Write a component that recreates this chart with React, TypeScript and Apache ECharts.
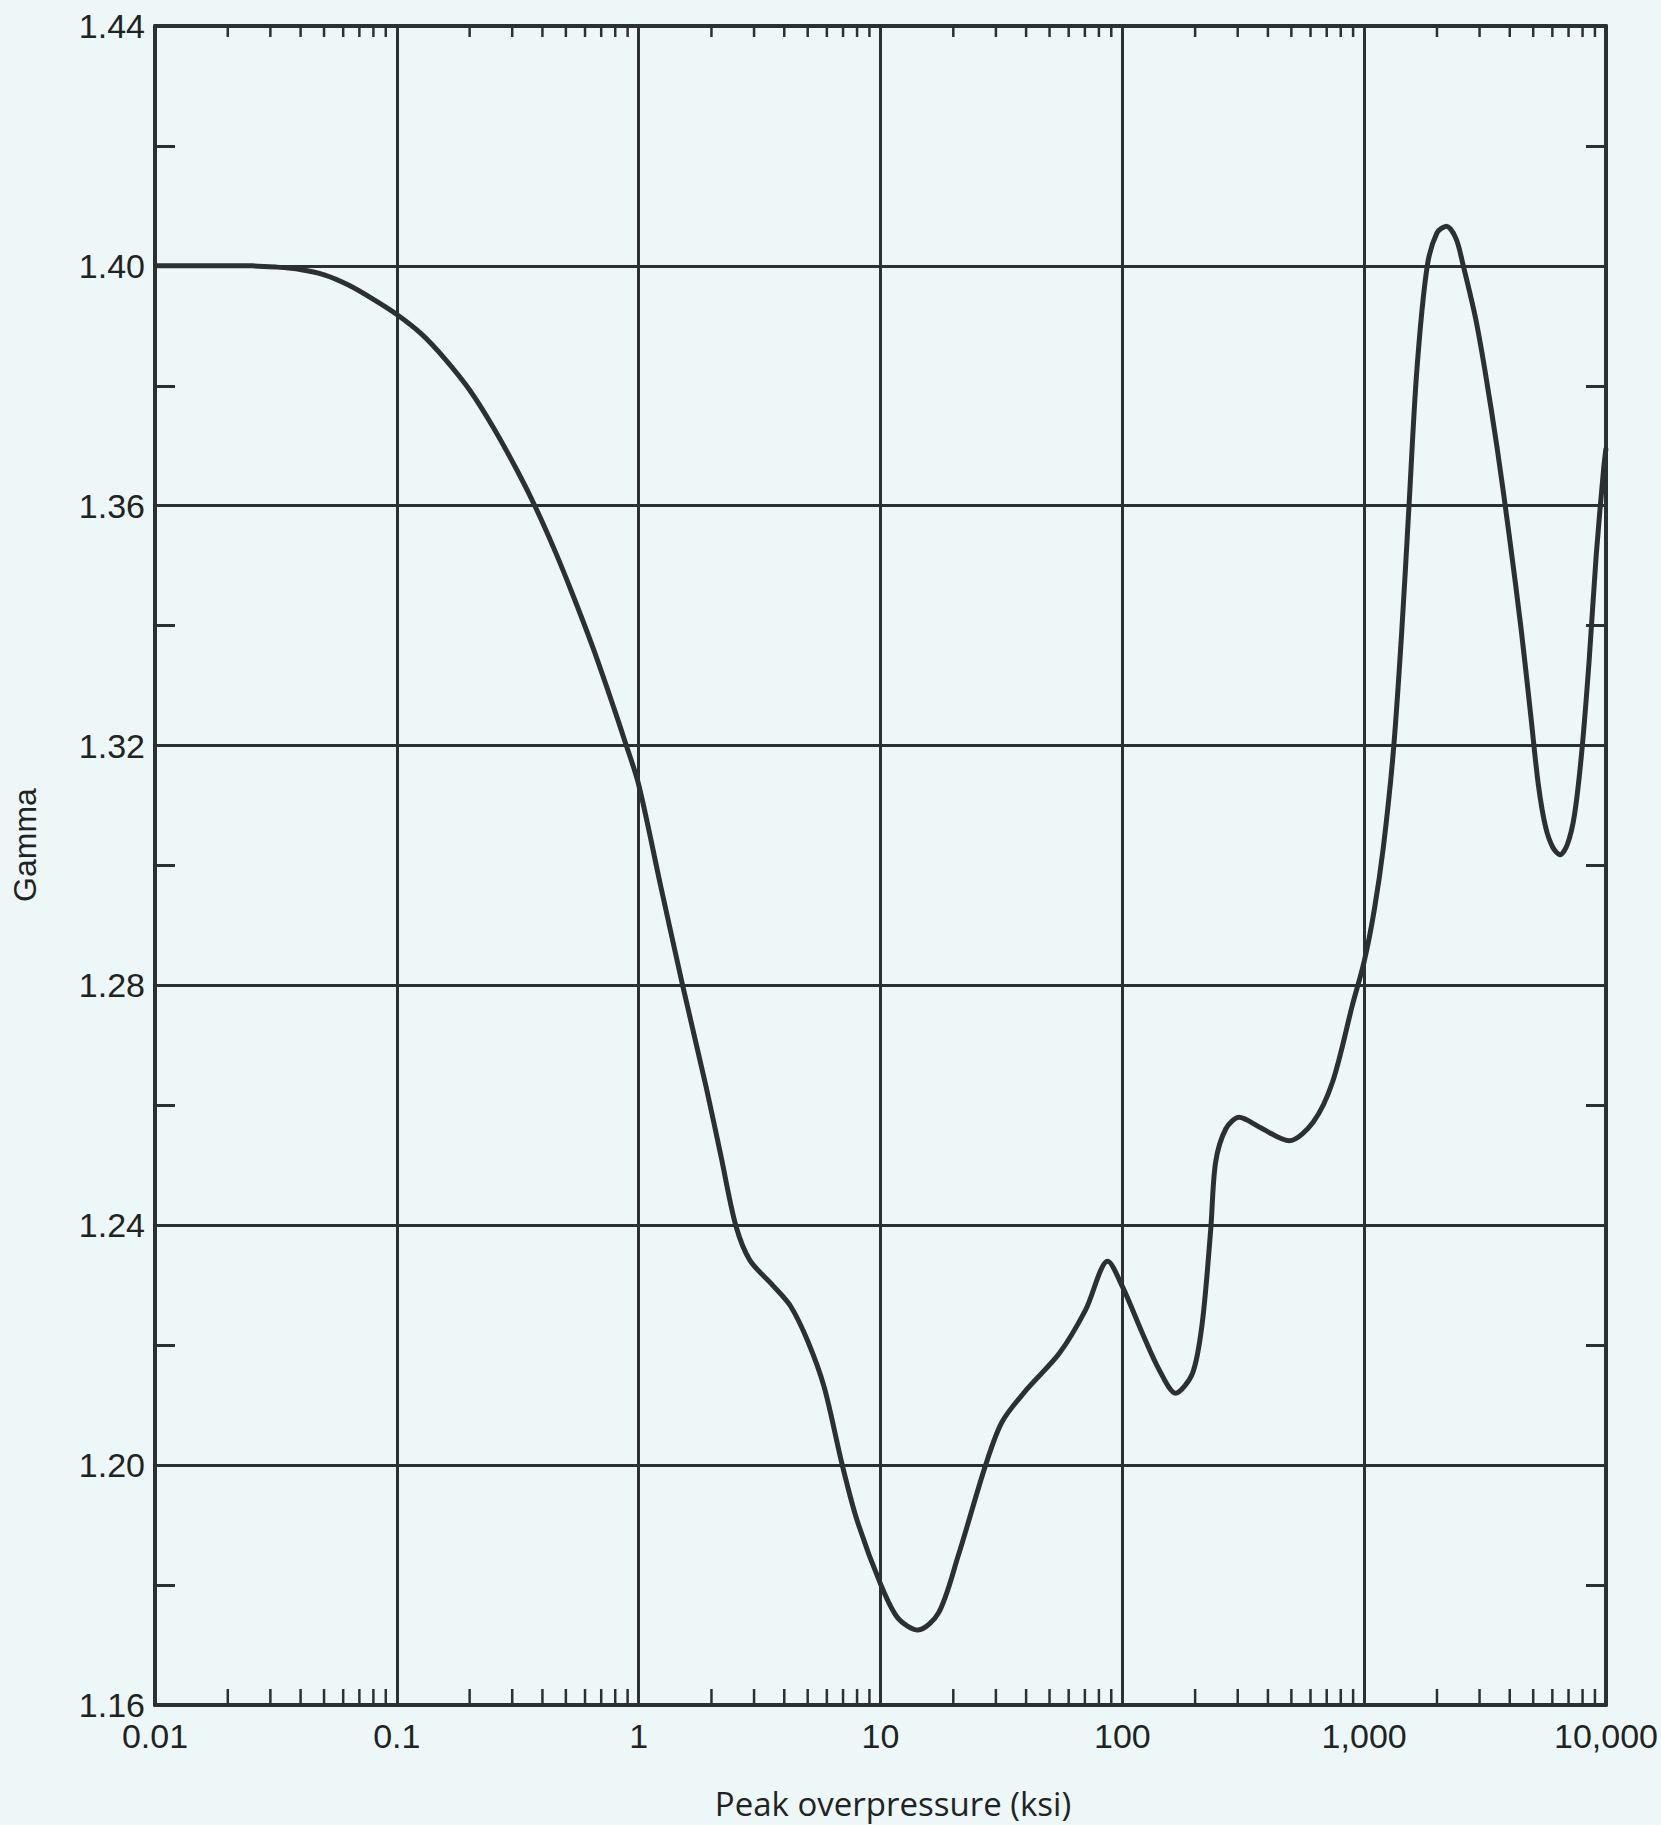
import React, { useEffect, useRef } from "react";
import * as echarts from "echarts";

// Ratio of specific heats (gamma) of air versus peak overpressure
const pressureKsi = [
  0.01, 0.0158, 0.0251, 0.0316, 0.0398, 0.0501, 0.0631, 0.0794, 0.1, 0.126, 0.158, 0.2, 0.251,
  0.316, 0.372, 0.447, 0.525, 0.646, 0.794, 0.871, 1.0, 1.23, 1.52, 1.9, 2.19, 2.52, 2.88, 3.6,
  4.25, 5.0, 5.85, 6.95, 8.0, 10.0, 11.8, 14.3, 17.4, 21, 27.2, 31.8, 40, 55, 70.5, 87, 100,
  121, 142, 166, 195, 214, 232, 243, 268, 304, 368, 490, 615, 740, 895, 1000, 1100, 1200, 1320,
  1430, 1530, 1650, 1820, 2000, 2190, 2400, 2570, 2880, 3160, 3550, 3980, 4470, 4900, 5250,
  5620, 6030, 6460, 6920, 7410, 7940, 8510, 9120, 9770, 10000,
];
const gammaValues = [
  1.4, 1.4, 1.4, 1.3998, 1.3994, 1.3985, 1.3968, 1.3945, 1.3919, 1.3887, 1.3845, 1.3793, 1.373,
  1.3657, 1.36, 1.3528, 1.3459, 1.3364, 1.326, 1.3211, 1.3135, 1.2968, 1.28, 1.2631, 1.2515,
  1.24, 1.2342, 1.2299, 1.2265, 1.2207, 1.213, 1.2, 1.1908, 1.1802, 1.1745, 1.1725, 1.1754,
  1.185, 1.2, 1.2072, 1.2125, 1.2187, 1.2259, 1.234, 1.2298, 1.222, 1.2159, 1.212, 1.2153,
  1.2237, 1.2393, 1.2505, 1.2561, 1.258, 1.2564, 1.2541, 1.2572, 1.2639, 1.2768, 1.284, 1.2925,
  1.303, 1.319, 1.339, 1.3595, 1.3824, 1.3998, 1.4055, 1.4066, 1.4045, 1.4, 1.3915, 1.3825,
  1.3695, 1.355, 1.339, 1.3245, 1.3135, 1.3065, 1.303, 1.3018, 1.3035, 1.3085, 1.319, 1.334,
  1.352, 1.366, 1.3696,
];

// Axis ranges and tick text
const xMin = 0.01;
const xMax = 10000;
const xTickLabels = ["0.01", "0.1", "1", "10", "100", "1,000", "10,000"];
const yMin = 1.16;
const yMax = 1.44;
const yStep = 0.04;
const minorMultipliers = [2, 3, 4, 5, 6, 7, 8, 9];
const decades = [0.01, 0.1, 1, 10, 100, 1000];

const INK = "#2b3133";
const PAPER = "#edf7f7";

export default function App() {
  const ref = useRef<HTMLDivElement>(null);

  useEffect(() => {
    if (!ref.current) return;
    const chart = echarts.init(ref.current, undefined, { renderer: "svg" });

    const curve = pressureKsi.map((p, i) => [p, gammaValues[i]]);
    const minorTicks: number[][] = [];
    decades.forEach((d) => minorMultipliers.forEach((m) => minorTicks.push([d * m, yMin])));

    const tickFont = {
      fontFamily: "Liberation Sans, Arial, sans-serif",
      fontSize: 34,
      lineHeight: 30,
      color: "#1e2324",
    };

    const xLabel = (v: number) => {
      const idx = Math.round(Math.log10(v)) + 2;
      return xTickLabels[idx] ?? "";
    };

    chart.setOption({
      animation: false,
      backgroundColor: PAPER,
      grid: { left: 155, top: 26, right: 50, bottom: 120, containLabel: false },
      xAxis: [
        {
          type: "log",
          logBase: 10,
          min: xMin,
          max: xMax,
          position: "bottom",
          axisLine: { show: true, onZero: false, lineStyle: { color: INK, width: 4 } },
          axisTick: { show: false },
          axisLabel: { ...tickFont, margin: 16, formatter: xLabel, showMinLabel: true, showMaxLabel: true },
          splitLine: { show: true, lineStyle: { color: INK, width: 3 } },
        },
        {
          type: "log",
          logBase: 10,
          min: xMin,
          max: xMax,
          position: "top",
          axisLine: { show: true, onZero: false, lineStyle: { color: INK, width: 4 } },
          axisTick: { show: false },
          axisLabel: { show: false },
          splitLine: { show: false },
        },
      ],
      yAxis: [
        {
          type: "value",
          min: yMin,
          max: yMax,
          interval: yStep,
          position: "left",
          axisLine: { show: true, onZero: false, lineStyle: { color: INK, width: 4 } },
          axisTick: { show: false, inside: true },
          minorTick: { show: true, splitNumber: 2, length: 20, lineStyle: { color: INK, width: 3 } },
          axisLabel: { ...tickFont, margin: 10, formatter: (v: number) => v.toFixed(2) },
          splitLine: { show: true, lineStyle: { color: INK, width: 3 } },
        },
        {
          type: "value",
          min: yMin,
          max: yMax,
          interval: yStep,
          position: "right",
          axisLine: { show: true, onZero: false, lineStyle: { color: INK, width: 4 } },
          axisTick: { show: false, inside: true },
          minorTick: { show: true, splitNumber: 2, length: 20, lineStyle: { color: INK, width: 3 } },
          axisLabel: { show: false },
          splitLine: { show: false },
        },
      ],
      graphic: [
        {
          type: "text",
          x: 893,
          y: 1803,
          style: {
            text: "Peak overpressure (ksi)",
            fontFamily: "Open Sans, DejaVu Sans, sans-serif",
            fontSize: 33,
            fill: "#1e2324",
            align: "center",
            verticalAlign: "middle",
          },
        },
        {
          type: "text",
          x: 25,
          y: 845,
          rotation: Math.PI / 2,
          style: {
            text: "Gamma",
            fontFamily: "Liberation Sans, Arial, sans-serif",
            fontSize: 32,
            fill: "#1e2324",
            align: "center",
            verticalAlign: "middle",
          },
        },
      ],
      series: [
        {
          type: "custom",
          xAxisIndex: 0,
          yAxisIndex: 0,
          silent: true,
          clip: false,
          data: minorTicks,
          renderItem: (_params: any, api: any) => {
            const v = api.value(0);
            const pb = api.coord([v, yMin]);
            const pt = api.coord([v, yMax]);
            const style = { stroke: INK, lineWidth: 2.5 };
            return {
              type: "group",
              children: [
                { type: "line", shape: { x1: pb[0], y1: pb[1], x2: pb[0], y2: pb[1] - 16 }, style },
                { type: "line", shape: { x1: pt[0], y1: pt[1], x2: pt[0], y2: pt[1] + 11 }, style },
              ],
            };
          },
        },
        {
          type: "line",
          xAxisIndex: 0,
          yAxisIndex: 0,
          data: curve,
          smooth: 0.3,
          showSymbol: false,
          symbol: "none",
          lineStyle: { color: INK, width: 5 },
          z: 5,
        },
      ],
    });

    return () => chart.dispose();
  }, []);

  return (
    <div
      ref={ref}
      style={{ position: "absolute", left: 0, top: 0, width: 1661, height: 1825, background: PAPER }}
    />
  );
}
